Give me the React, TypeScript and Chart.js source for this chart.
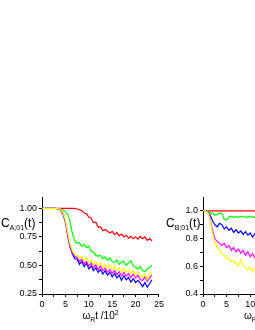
import React, { useEffect, useRef } from 'react';
import { Chart, registerables } from 'chart.js';

Chart.register(...registerables);

// ---------- data ----------
const timesA = [0, 0.5, 1, 1.5, 2, 2.5, 3, 3.5, 4, 4.5, 5, 5.5, 6, 6.5, 7, 7.5, 8, 8.5, 9, 9.5, 10, 10.5, 11, 11.5, 12, 12.5, 13, 13.5, 14, 14.5, 15, 15.5, 16, 16.5, 17, 17.5, 18, 18.5, 19, 19.5, 20, 20.5, 21, 21.5, 22, 22.5, 23, 23.5];

const aRed = [1, 1, 1, 1, 1, 1, 1, 1, 1, 1, 1, 1, 1, 1,
  1.0, 0.995, 0.99, 0.98, 0.96, 0.955, 0.925, 0.915, 0.875, 0.88, 0.835, 0.84, 0.805, 0.815, 0.80, 0.785, 0.80, 0.77, 0.79, 0.76, 0.775, 0.75, 0.765, 0.74, 0.755, 0.735, 0.75, 0.73, 0.755, 0.735, 0.75, 0.72, 0.735, 0.715];
const aGreen = [1, 1, 1, 1, 1, 1,
  0.998, 0.995, 0.99, 0.985, 0.97, 0.95, 0.88, 0.78, 0.72, 0.695, 0.70, 0.665, 0.685, 0.655, 0.67, 0.625, 0.615, 0.59, 0.58, 0.59, 0.56, 0.575, 0.545, 0.565, 0.535, 0.525, 0.55, 0.51, 0.53, 0.535, 0.5, 0.525, 0.54, 0.495, 0.485, 0.47, 0.49, 0.455, 0.445, 0.47, 0.485, 0.505];
const aBlue = [1, 1, 1, 1, 1, 1, 1,
  0.995, 0.985, 0.95, 0.88, 0.76, 0.66, 0.60, 0.56, 0.555, 0.51, 0.535, 0.49, 0.52, 0.47, 0.495, 0.455, 0.48, 0.44, 0.465, 0.425, 0.455, 0.415, 0.44, 0.40, 0.43, 0.39, 0.415, 0.37, 0.41, 0.375, 0.395, 0.355, 0.385, 0.35, 0.37, 0.345, 0.315, 0.35, 0.31, 0.34, 0.375];
const aMagenta = [1, 1, 1, 1, 1, 1, 1,
  0.997, 0.99, 0.96, 0.89, 0.77, 0.67, 0.61, 0.58, 0.57, 0.535, 0.555, 0.515, 0.535, 0.495, 0.52, 0.48, 0.505, 0.465, 0.495, 0.455, 0.475, 0.44, 0.465, 0.43, 0.455, 0.42, 0.445, 0.41, 0.44, 0.405, 0.43, 0.395, 0.425, 0.39, 0.415, 0.375, 0.37, 0.40, 0.36, 0.39, 0.415];
const aYellow = [1, 1, 1, 1, 1, 1, 1,
  0.998, 0.99, 0.965, 0.90, 0.79, 0.69, 0.63, 0.595, 0.59, 0.56, 0.58, 0.54, 0.565, 0.525, 0.55, 0.51, 0.535, 0.50, 0.525, 0.485, 0.51, 0.48, 0.505, 0.465, 0.49, 0.455, 0.48, 0.445, 0.475, 0.44, 0.465, 0.43, 0.455, 0.42, 0.445, 0.41, 0.395, 0.425, 0.38, 0.415, 0.445];

const timesB = [0, 0.5, 1, 1.5, 2, 2.5, 3, 3.5, 4, 4.5, 5, 5.5, 6, 6.5, 7, 7.5, 8, 8.5, 9, 9.5, 10, 10.5, 11, 11.5, 12];
const bRed = [1, 1, 1, 1, 1, 1, 1, 1, 1, 1, 1, 1, 1, 1, 1, 1, 1, 1, 1, 1, 1, 1, 1, 1, 1];
const bGreen = [1.0, 1.0, 0.998, 0.99, 0.98, 0.97, 0.975, 0.985, 0.98, 0.94, 0.935, 0.955, 0.962, 0.953, 0.96, 0.952, 0.962, 0.954, 0.958, 0.952, 0.961, 0.953, 0.957, 0.951, 0.958];
const bBlue = [1.0, 1.0, 0.995, 0.97, 0.93, 0.90, 0.885, 0.91, 0.90, 0.87, 0.885, 0.86, 0.875, 0.845, 0.865, 0.84, 0.855, 0.83, 0.85, 0.825, 0.84, 0.81, 0.835, 0.815, 0.83];
const bMagenta = [1.0, 1.0, 0.99, 0.95, 0.86, 0.80, 0.78, 0.765, 0.75, 0.765, 0.735, 0.75, 0.715, 0.735, 0.705, 0.725, 0.695, 0.715, 0.68, 0.705, 0.67, 0.69, 0.66, 0.685, 0.66];
const bYellow = [1.0, 1.0, 0.99, 0.94, 0.84, 0.77, 0.74, 0.72, 0.69, 0.68, 0.655, 0.66, 0.63, 0.64, 0.62, 0.605, 0.645, 0.61, 0.59, 0.575, 0.595, 0.56, 0.585, 0.555, 0.575];

const xTicks = [0, 2.5, 5, 7.5, 10, 12.5, 15, 17.5, 20, 22.5, 25];
const xMajor = [0, 5, 10, 15, 20, 25];
const yTicksA = [0.25, 0.375, 0.5, 0.625, 0.75, 0.875, 1.0];
const yMajorA = [0.25, 0.5, 0.75, 1.0];
const yTicksB = [0.4, 0.5, 0.6, 0.7, 0.8, 0.9, 1.0];
const yMajorB = [0.4, 0.6, 0.8, 1.0];

const seriesColors = ['#ff0000', '#00ff00', '#0000ff', '#ff00ff', '#ffff00'];

// ---------- helpers ----------
const FONT = '"Liberation Sans", Arial, Helvetica, sans-serif';

type Part = { text: string; size: number; dy: number };

function drawRich(ctx: CanvasRenderingContext2D, x: number, y: number, parts: Part[], align: 'left' | 'center') {
  let total = 0;
  for (const p of parts) {
    ctx.font = `${p.size}px ${FONT}`;
    total += ctx.measureText(p.text).width;
  }
  let cx = align === 'center' ? x - total / 2 : x;
  ctx.textAlign = 'left';
  ctx.textBaseline = 'alphabetic';
  for (const p of parts) {
    ctx.font = `${p.size}px ${FONT}`;
    ctx.fillText(p.text, cx, y + p.dy);
    cx += ctx.measureText(p.text).width;
  }
}

const isIn = (arr: number[], v: number) => arr.some((a) => Math.abs(a - v) < 1e-6);

function makeConfig(
  times: number[],
  series: number[][],
  yMin: number,
  yMax: number,
  yTicks: number[],
  yMajor: number[],
  yDigits: number,
  yAxisWidth: number,
  padRight: number,
  ySub: string
): any {
  const titlePlugin = {
    id: 'richTitles',
    afterDraw(chart: any) {
      const { ctx, chartArea } = chart;
      ctx.save();
      ctx.fillStyle = '#000';
      drawRich(ctx, chartArea.left - yAxisWidth + 1, chartArea.top + 30, [
        { text: 'C', size: 12, dy: 0 },
        { text: ySub, size: 7, dy: 3 },
        { text: '(t)', size: 12, dy: 0 },
      ], 'left');
      drawRich(ctx, (chartArea.left + chartArea.right) / 2, 319, [
        { text: 'ω', size: 10, dy: 0 },
        { text: 'R', size: 7, dy: 3 },
        { text: 't /10', size: 10, dy: 0 },
        { text: '2', size: 7, dy: -4 },
      ], 'center');
      ctx.restore();
    },
  };

  return {
    type: 'line',
    data: {
      datasets: series.map((vals, i) => ({
        data: times.map((t, j) => ({ x: t, y: vals[j] })),
        borderColor: seriesColors[i],
        backgroundColor: seriesColors[i],
        borderWidth: 1.2,
        pointRadius: 0,
        tension: 0,
        fill: false,
        order: series.length - i,
      })),
    },
    options: {
      responsive: false,
      animation: false,
      devicePixelRatio: 1,
      layout: { padding: { top: 197, right: padRight, left: 0, bottom: 0 } },
      plugins: { legend: { display: false }, tooltip: { enabled: false } },
      scales: {
        x: {
          type: 'linear',
          min: 0,
          max: 25,
          afterBuildTicks: (s: any) => { s.ticks = xTicks.map((v) => ({ value: v })); },
          afterFit: (s: any) => { s.height = 36; },
          ticks: {
            autoSkip: false,
            maxRotation: 0,
            padding: 2,
            color: '#000',
            font: { family: FONT, size: 9 },
            callback: (v: any) => (isIn(xMajor, Number(v)) ? String(v) : ''),
          },
          grid: { display: true, drawOnChartArea: false, drawTicks: true, tickLength: 3, color: '#000' },
          border: { display: true, color: '#000', width: 1 },
        },
        y: {
          type: 'linear',
          min: yMin,
          max: yMax,
          afterBuildTicks: (s: any) => { s.ticks = yTicks.map((v) => ({ value: v })); },
          afterFit: (s: any) => { s.width = yAxisWidth; },
          ticks: {
            autoSkip: false,
            padding: 2,
            color: '#000',
            font: { family: FONT, size: 9 },
            callback: (v: any) => (isIn(yMajor, Number(v)) ? Number(v).toFixed(yDigits) : ''),
          },
          grid: { display: true, drawOnChartArea: false, drawTicks: true, tickLength: 3, color: '#000' },
          border: { display: true, color: '#000', width: 1 },
        },
      },
    },
    plugins: [titlePlugin],
  };
}

export default function App() {
  const leftRef = useRef<HTMLCanvasElement>(null);
  const rightRef = useRef<HTMLCanvasElement>(null);

  useEffect(() => {
    const left = new Chart(
      leftRef.current as HTMLCanvasElement,
      makeConfig(timesA, [aRed, aGreen, aBlue, aMagenta, aYellow], 0.25, 1.1, yTicksA, yMajorA, 2, 42, 6, 'A;01')
    );
    const right = new Chart(
      rightRef.current as HTMLCanvasElement,
      makeConfig(timesB, [bRed, bGreen, bBlue, bMagenta, bYellow], 0.4, 1.1, yTicksB, yMajorB, 1, 38, 14, 'B;01')
    );
    return () => {
      left.destroy();
      right.destroy();
    };
  }, []);

  return (
    <div style={{ position: 'fixed', left: 0, top: 0, width: 255, height: 330, overflow: 'hidden', background: '#fff' }}>
      <canvas ref={leftRef} width={166} height={330} style={{ position: 'absolute', left: 0, top: 0, width: 166, height: 330 }} />
      <canvas ref={rightRef} width={170} height={330} style={{ position: 'absolute', left: 165, top: 0, width: 170, height: 330 }} />
    </div>
  );
}
